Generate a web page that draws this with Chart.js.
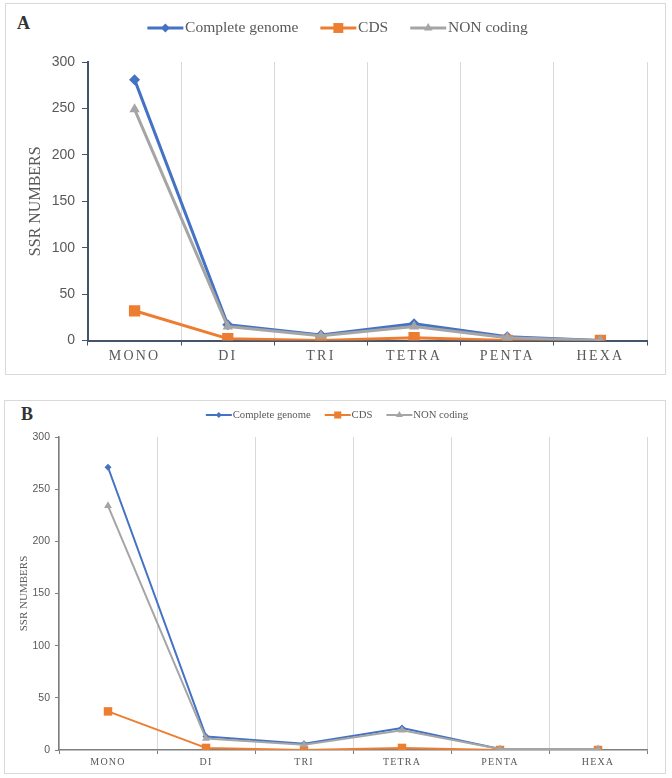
<!DOCTYPE html>
<html>
<head>
<meta charset="utf-8">
<script src="https://cdn.jsdelivr.net/npm/chart.js@4.4.1/dist/chart.umd.min.js"></script>
<style>
  body { margin: 0; background: #fff; width: 672px; height: 778px; position: relative; overflow: hidden; }
  .frame { position: absolute; border: 1px solid #d9d9d9; box-sizing: border-box; }
  .tag { position: absolute; font-family: "Liberation Serif", serif; color: #333; line-height: 1; font-size: 18px; font-weight: bold; }
  canvas { position: absolute; }
</style>
</head>
<body>
<div class="frame" style="left:5px;top:3px;width:661px;height:372px"></div>
<div class="frame" style="left:4px;top:400px;width:662px;height:374px"></div>
<div class="tag" style="left:17px;top:13.5px">A</div>
<div class="tag" style="left:21px;top:404.5px">B</div>
<canvas id="chartA" width="658" height="369" style="left:6px;top:4px"></canvas>
<canvas id="chartB" width="660" height="373" style="left:5px;top:399px"></canvas>
<script>
const categories = ['MONO', 'DI', 'TRI', 'TETRA', 'PENTA', 'HEXA']
const seriesNames = ['Complete genome', 'CDS', 'NON coding']

// panel A
const completeA = [281, 17, 6, 18, 4, 0]
const cdsA = [32, 2, 0, 3, 0, 0]
const nonCodingA = [249, 15, 5, 15, 3, 0]

// panel B
const completeB = [271, 13, 6, 21, 1, 1]
const cdsB = [37, 2, 0, 2, 0, 0]
const nonCodingB = [234, 11, 5, 19, 1, 1]

const yTicks = [0, 50, 100, 150, 200, 250, 300]

const colors = ['#4472C4', '#ED7D31', '#A5A5A5']
const markers = ['rectRot', 'rect', 'triangle']

// legend height is fixed so the plot top lands where it should
const fixLegend = {
  id: 'fixLegend',
  beforeLayout(chart, args, opts) {
    const lg = chart.legend
    if (lg && !lg._fixed) {
      const fit = lg.fit
      lg.fit = function () { fit.call(this); this.height = opts.height }
      lg._fixed = true
    }
  }
}

// spaced-out tick labels (canvas letterSpacing)
const spacing = {
  id: 'spacing',
  beforeDraw(chart, args, opts) {
    for (const id of ['x', 'y']) {
      const s = chart.scales[id]
      if (!s || !opts[id] || s._spaced) continue
      const orig = s.drawLabels
      s.drawLabels = function (area) {
        const c = this.ctx
        c.save()
        c.letterSpacing = opts[id] + 'px'
        orig.call(this, area)
        c.restore()
      }
      s._spaced = true
    }
  }
}

function drawMarker(ctx, style, x, y, r) {
  ctx.beginPath()
  if (style === 'rect') {
    const h = r * Math.SQRT1_2
    ctx.rect(x - h, y - h, 2 * h, 2 * h)
  } else if (style === 'rectRot') {
    ctx.moveTo(x, y - r); ctx.lineTo(x + r, y); ctx.lineTo(x, y + r); ctx.lineTo(x - r, y)
    ctx.closePath()
  } else {
    const h = r * 0.866
    ctx.moveTo(x, y - r); ctx.lineTo(x + h, y + r / 2); ctx.lineTo(x - h, y + r / 2)
    ctx.closePath()
  }
  ctx.fill()
}

// legend swatch = short line with the series marker on it
const legendLines = {
  id: 'legendLines',
  afterDraw(chart, args, opts) {
    const lg = chart.legend
    if (!lg || !lg.legendHitBoxes) return
    const ctx = chart.ctx
    lg.legendItems.forEach((item, i) => {
      const hb = lg.legendHitBoxes[i]
      const ds = chart.data.datasets[item.datasetIndex]
      const cy = hb.top + hb.height / 2
      ctx.save()
      ctx.strokeStyle = ds.borderColor
      ctx.fillStyle = ds.borderColor
      ctx.lineWidth = opts.width
      ctx.beginPath()
      ctx.moveTo(hb.left, cy)
      ctx.lineTo(hb.left + opts.length, cy)
      ctx.stroke()
      drawMarker(ctx, ds.pointStyle, hb.left + opts.length / 2, cy, opts.radius[item.datasetIndex])
      ctx.restore()
    })
  }
}

function makeDatasets(values, lineWidth, radii) {
  return values.map((data, i) => ({
    label: seriesNames[i],
    data: data,
    borderColor: colors[i],
    backgroundColor: colors[i],
    borderWidth: lineWidth,
    borderJoinStyle: 'round',
    pointStyle: markers[i],
    pointRadius: radii[i],
    pointBorderWidth: 0,
    pointBackgroundColor: colors[i],
    order: 2 - i
  }))
}

function makeChart(el, cfg) {
  return new Chart(document.getElementById(el), {
    type: 'line',
    data: {
      labels: categories,
      datasets: makeDatasets(cfg.values, cfg.lineWidth, cfg.radii)
    },
    plugins: [fixLegend, spacing, legendLines],
    options: {
      responsive: false,
      animation: false,
      layout: { padding: cfg.padding },
      plugins: {
        tooltip: { enabled: false },
        fixLegend: { height: cfg.legendHeight },
        spacing: { x: cfg.xSpacing, y: cfg.ySpacing },
        legendLines: { length: cfg.swatch, width: cfg.lineWidth, radius: cfg.legendRadii },
        legend: {
          position: 'top',
          labels: {
            boxWidth: cfg.boxWidth,
            boxHeight: 2,
            padding: cfg.legendGap,
            color: '#595959',
            font: { family: 'Liberation Serif', size: cfg.legendSize },
            sort: (a, b) => a.datasetIndex - b.datasetIndex,
            generateLabels: (chart) => Chart.defaults.plugins.legend.labels.generateLabels(chart)
              .map(l => Object.assign(l, { fillStyle: 'rgba(0,0,0,0)', strokeStyle: 'rgba(0,0,0,0)', lineWidth: 0 }))
          }
        }
      },
      scales: {
        x: {
          offset: true,
          afterFit: s => { s.height = cfg.xHeight },
          grid: { color: '#d9d9d9', lineWidth: 1, tickColor: cfg.axisColor, tickLength: cfg.xTickLength, offset: true },
          border: { color: cfg.axisColor, width: cfg.axisWidth },
          ticks: {
            color: '#595959',
            padding: cfg.xPad,
            maxRotation: 0,
            font: { family: 'Liberation Serif', size: cfg.xSize }
          }
        },
        y: {
          min: 0,
          max: 300,
          afterFit: s => { s.width = cfg.yWidth },
          afterBuildTicks: s => { s.ticks = yTicks.map(v => ({ value: v })) },
          grid: { drawOnChartArea: false, tickColor: cfg.axisColor, tickLength: cfg.yTickLength },
          border: { color: cfg.axisColor, width: cfg.axisWidth },
          ticks: {
            color: '#595959',
            padding: cfg.yPad,
            font: { family: 'Liberation Sans', size: cfg.ySize }
          },
          title: {
            display: true,
            text: 'SSR NUMBERS',
            color: '#595959',
            padding: { top: cfg.titlePad, bottom: 0 },
            font: { family: 'Liberation Serif', size: cfg.titleSize }
          }
        }
      }
    }
  })
}

makeChart('chartA', {
  values: [completeA, cdsA, nonCodingA],
  lineWidth: 3,
  radii: [5.5, 8, 6],
  legendRadii: [4.5, 7, 5],
  padding: { top: -5.75, left: 22, right: 17, bottom: 0 },
  legendHeight: 63.75,
  legendSize: 15.5,
  legendGap: 22,
  boxWidth: 30,
  swatch: 36,
  xHeight: 32.5,
  yWidth: 60,
  axisColor: '#44546A',
  axisWidth: 2,
  xTickLength: 5,
  yTickLength: 6,
  xPad: 2,
  xSize: 14,
  xSpacing: 2.2,
  yPad: 7,
  ySize: 14,
  ySpacing: 0,
  titlePad: -1.6,
  titleSize: 16
})

makeChart('chartB', {
  values: [completeB, cdsB, nonCodingB],
  lineWidth: 2,
  radii: [3.5, 6, 4.5],
  legendRadii: [3, 5, 4],
  padding: { top: -3.35, left: 22, right: 18, bottom: 0 },
  legendHeight: 41.35,
  legendSize: 10.7,
  legendGap: 14,
  boxWidth: 21.5,
  swatch: 26,
  xHeight: 22,
  yWidth: 32,
  axisColor: '#7F7F7F',
  axisWidth: 1.5,
  xTickLength: 4,
  yTickLength: 4,
  xPad: 2,
  xSize: 10,
  xSpacing: 1.2,
  yPad: 5,
  ySize: 10.5,
  ySpacing: 0,
  titlePad: -9.6,
  titleSize: 11
})
</script>
</body>
</html>
